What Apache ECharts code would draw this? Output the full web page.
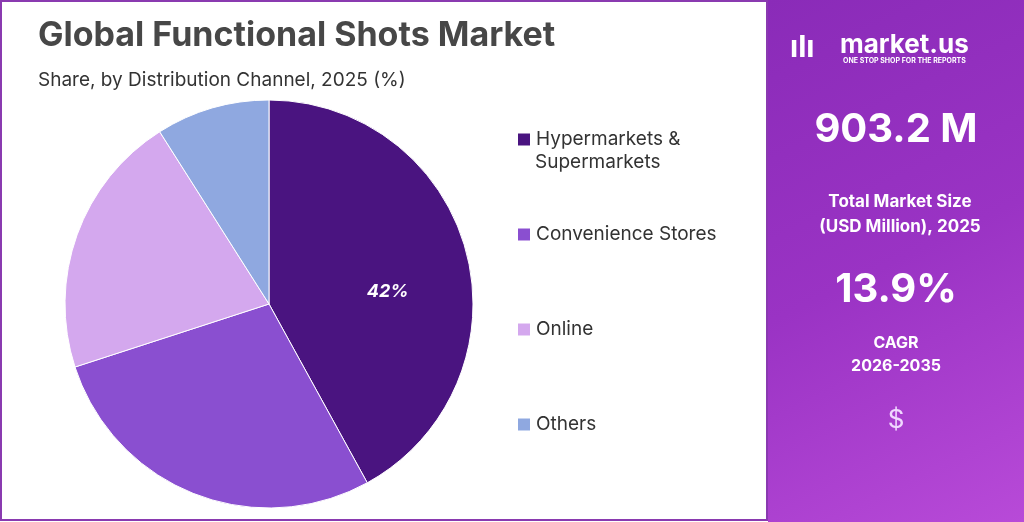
<!DOCTYPE html><html><head><meta charset="utf-8">
<script src="https://cdn.jsdelivr.net/npm/echarts@6/dist/echarts.min.js"></script>
<style>html,body{margin:0;padding:0;background:#fff}#c{width:1024px;height:522px}</style></head>
<body><div id="c"></div><script>
const categories=["Hypermarkets & Supermarkets","Convenience Stores","Online","Others"];
const shares=[42,28,21,9];
const colors=["#4a1480","#8a4fd0","#d4a8ee","#8fa8e0"];
const chart=echarts.init(document.getElementById('c'));
const F='Inter';
const legendY=[125,220,315,410];
chart.setOption({
 animation:false,
 title:[{text:'Global Functional Shots Market',left:33,top:14,textStyle:{fontFamily:F,fontSize:34,fontWeight:'bold',color:'#474747'}},
  {text:'Share, by Distribution Channel, 2025 (%)',left:33,top:66,textStyle:{fontFamily:F,fontSize:19,fontWeight:'normal',color:'#333'}}],
 legend:categories.map((c,i)=>({data:[c],left:511,top:legendY[i],itemWidth:14,itemHeight:14,icon:'rect',
   formatter:n=>n==='Hypermarkets & Supermarkets'?'Hypermarkets &':n,
   textStyle:{fontFamily:F,fontSize:19,color:'#333'}})),
 graphic:[
  {type:'rect',shape:{x:1,y:1,width:766,height:519},style:{fill:'none',stroke:'#8a3ab0',lineWidth:2}},
  {type:'text',left:535,top:153,style:{text:'Supermarkets',fontFamily:F,fontSize:19,fill:'#333'}},
  {type:'rect',shape:{x:768,y:0,width:256,height:522},style:{fill:new echarts.graphic.LinearGradient(0,0,1,1,[{offset:0,color:'#8a2bb8'},{offset:0.5,color:'#9a33c4'},{offset:1,color:'#b84ad8'}])}},
  {type:'text',x:840,y:32,style:{text:'market.us',fontFamily:F,fontSize:26,fontWeight:'bold',fill:'#fff'}},
  {type:'text',x:843,y:57,style:{text:'ONE STOP SHOP FOR THE REPORTS',fontFamily:F,fontSize:7,fontWeight:'bold',fill:'#fff'}},
  {type:'text',x:790,y:33,style:{text:'ılı',fontFamily:F,fontSize:30,fontWeight:'bold',fill:'#fff'}},
  {type:'text',x:896,y:130,style:{text:'903.2 M',fontFamily:F,fontSize:40,fontWeight:'bold',fill:'#fff',align:'center',verticalAlign:'middle'}},
  {type:'text',x:900,y:214,style:{text:'Total Market Size\n(USD Million), 2025',lineHeight:25,fontFamily:F,fontSize:17,fontWeight:'bold',fill:'#fff',align:'center',verticalAlign:'middle'}},
  {type:'text',x:896,y:290,style:{text:'13.9%',fontFamily:F,fontSize:40,fontWeight:'bold',fill:'#fff',align:'center',verticalAlign:'middle'}},
  {type:'text',x:896,y:355,style:{text:'CAGR\n2026-2035',lineHeight:23,fontFamily:F,fontSize:16,fontWeight:'bold',fill:'#fff',align:'center',verticalAlign:'middle'}},
  {type:'text',x:896,y:420,style:{text:'$',fontFamily:F,fontSize:26,fill:'#f0d8ff',align:'center',verticalAlign:'middle'}}
 ],
 series:[{type:'pie',center:[269,304],radius:[0,204],startAngle:90,clockwise:true,
  data:categories.map((c,i)=>({name:c,value:shares[i],itemStyle:{color:colors[i]},
    label:i===0?{show:true,position:'inside',offset:[17,14],formatter:'{c}%',color:'#fff',fontFamily:F,fontSize:18,fontWeight:'bold',fontStyle:'italic'}:{show:false}})),
  labelLine:{show:false},itemStyle:{borderColor:'#fff',borderWidth:1}}]
});
</script></body></html>
